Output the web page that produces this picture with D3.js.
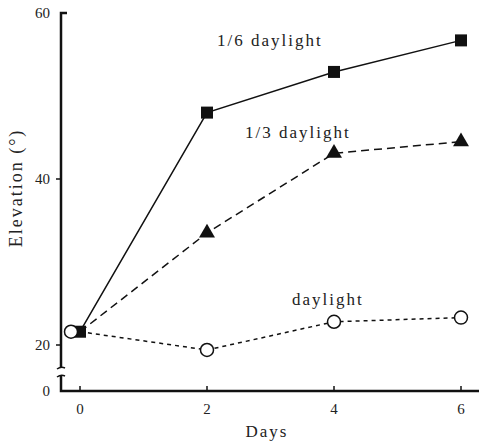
<!DOCTYPE html>
<html>
<head>
<meta charset="utf-8">
<script src="https://cdn.jsdelivr.net/npm/d3@7"></script>
<style>
  body { margin: 0; background: #fff; }
  text { font-family: "Liberation Serif", "DejaVu Serif", serif; fill: #222; }
</style>
</head>
<body>
<div id="chart"></div>
<script>
// datos
const days = [0, 2, 4, 6];
const sixth = [21.6, 48.0, 52.9, 56.7];     // 1/6 daylight
const third = [21.6, 33.5, 43.1, 44.5];     // 1/3 daylight
const full = [21.6, 19.4, 22.8, 23.3];      // daylight
const yTicks = [20, 40, 60];
const xTicks = [0, 2, 4, 6];

const width = 479, height = 442;
const svg = d3.select("#chart").append("svg")
    .attr("width", width).attr("height", height);

const x = d3.scaleLinear().domain([0, 6]).range([80, 461]);
const y = d3.scaleLinear().domain([20, 60]).range([345, 13]);
const axisX = 61, baseY = 391;

// ejes
svg.append("path")
    .attr("d", `M${axisX + 6},${y(60)}H${axisX}V368`)
    .attr("fill", "none").attr("stroke", "#111").attr("stroke-width", 2.5);
// corte del eje
svg.append("path")
    .attr("d", `M${axisX - 4},369 Q${axisX},366 ${axisX + 4},368 M${axisX - 4},377 Q${axisX},374 ${axisX + 4},376`)
    .attr("fill", "none").attr("stroke", "#111").attr("stroke-width", 1.5);
svg.append("path")
    .attr("d", `M${axisX},376V${baseY}H${width}`)
    .attr("fill", "none").attr("stroke", "#111").attr("stroke-width", 2.5);

// ticks y
svg.selectAll(".yt").data(yTicks.filter(d => d < 60)).enter().append("line")
    .attr("x1", axisX - 5).attr("x2", axisX)
    .attr("y1", d => y(d)).attr("y2", d => y(d))
    .attr("stroke", "#111").attr("stroke-width", 1.5);
svg.selectAll(".ytl").data(yTicks).enter().append("text")
    .attr("x", axisX - 11).attr("y", d => y(d) + 5)
    .attr("text-anchor", "end").attr("font-size", 15)
    .text(d => d);
svg.append("text").attr("x", axisX - 11).attr("y", baseY + 5)
    .attr("text-anchor", "end").attr("font-size", 15).text("0");

// ticks x
svg.selectAll(".xt").data(xTicks).enter().append("line")
    .attr("x1", d => x(d)).attr("x2", d => x(d))
    .attr("y1", baseY - 5).attr("y2", baseY)
    .attr("stroke", "#111").attr("stroke-width", 1.5);
svg.selectAll(".xtl").data(xTicks).enter().append("text")
    .attr("x", d => x(d)).attr("y", baseY + 23)
    .attr("text-anchor", "middle").attr("font-size", 15)
    .text(d => d);

svg.append("text").attr("x", 267).attr("y", 437)
    .attr("text-anchor", "middle").attr("font-size", 17)
    .attr("letter-spacing", 2).text("Days");
svg.append("text")
    .attr("transform", "translate(22,188) rotate(-90)")
    .attr("text-anchor", "middle").attr("font-size", 18)
    .attr("letter-spacing", 2).text("Elevation (°)");

// series
const line = d3.line().x(d => x(d[0])).y(d => y(d[1]));
const series = [
  {vals: sixth, dash: null, marker: "square", label: "1/6 daylight", lx: 217, ly: 46},
  {vals: third, dash: "8,5", marker: "triangle", label: "1/3 daylight", lx: 245, ly: 138},
  {vals: full, dash: "4,4", marker: "circle", label: "daylight", lx: 292, ly: 305}
];

series.forEach(s => {
  const pts = days.map((d, i) => [d, s.vals[i]]);
  svg.append("path").datum(pts)
      .attr("d", line)
      .attr("fill", "none").attr("stroke", "#111").attr("stroke-width", 1.5)
      .attr("stroke-dasharray", s.dash);
  const g = svg.append("g");
  pts.forEach((p, i) => {
    const cx = x(p[0]), cy = y(p[1]);
    if (s.marker === "square") {
      g.append("rect").attr("x", cx - 6).attr("y", cy - 6)
        .attr("width", 12).attr("height", 12).attr("fill", "#111");
    } else if (s.marker === "triangle") {
      if (i === 0) return;
      g.append("path")
        .attr("d", d3.symbol(d3.symbolTriangle, 110)())
        .attr("transform", `translate(${cx},${cy})`).attr("fill", "#111");
    } else {
      // el primer círculo está desplazado a la izquierda en el original
      const ox = i === 0 ? cx - 9 : cx;
      g.append("circle").attr("cx", ox).attr("cy", cy).attr("r", 6.5)
        .attr("fill", "#fff").attr("stroke", "#111").attr("stroke-width", 1.5);
    }
  });
  svg.append("text").attr("x", s.lx).attr("y", s.ly)
      .attr("font-size", 17).attr("letter-spacing", 2).text(s.label);
});
</script>
</body>
</html>
